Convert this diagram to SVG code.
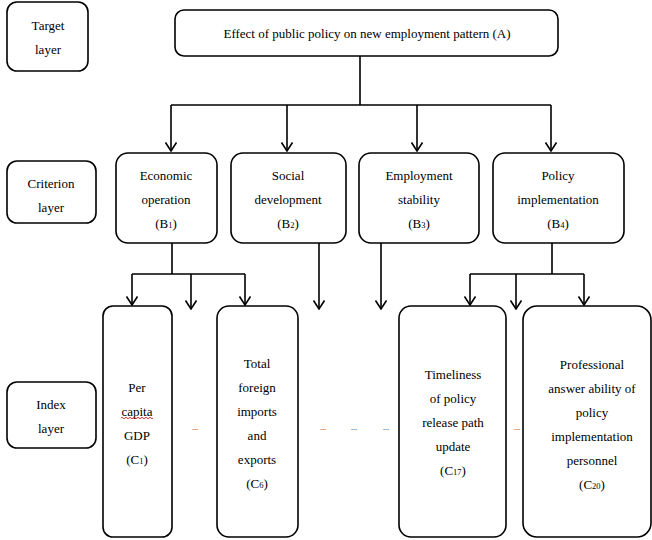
<svg xmlns="http://www.w3.org/2000/svg" width="652" height="540" viewBox="0 0 652 540">
<defs>
<marker id="ah" viewBox="0 0 10 12" refX="9" refY="6" markerWidth="10" markerHeight="12" markerUnits="userSpaceOnUse" orient="auto">
<path d="M0.5,0.5 L9,6 L0.5,11.5" fill="none" stroke="#000" stroke-width="1.6"/>
</marker>
</defs>
<rect width="652" height="540" fill="#fff"/>
<g id="connectors" fill="none" stroke="#000" stroke-width="1.6">
<path d="M360,56 V105 M171,105 H551"/>
<path d="M171,105 V151" marker-end="url(#ah)"/>
<path d="M287,105 V151" marker-end="url(#ah)"/>
<path d="M417,105 V151" marker-end="url(#ah)"/>
<path d="M551,105 V151" marker-end="url(#ah)"/>
<path d="M172,243 V274 M132,274 H245"/>
<path d="M132,274 V305" marker-end="url(#ah)"/>
<path d="M191,274 V309" marker-end="url(#ah)"/>
<path d="M245,274 V305" marker-end="url(#ah)"/>
<path d="M319,243 V309" marker-end="url(#ah)"/>
<path d="M381,243 V309" marker-end="url(#ah)"/>
<path d="M552,243 V274 M470,274 H584"/>
<path d="M470,274 V305" marker-end="url(#ah)"/>
<path d="M516,274 V309" marker-end="url(#ah)"/>
<path d="M584,274 V305" marker-end="url(#ah)"/>
</g>
<g id="target-layer">
<rect fill="#fff" stroke="#000" stroke-width="1.6" x="7" y="2" width="81" height="69" rx="10"/>
<text style="font-family:'Liberation Serif',serif !important" font-size="13" text-anchor="middle" x="48" y="29.5">Target</text>
<text style="font-family:'Liberation Serif',serif !important" font-size="13" text-anchor="middle" x="48" y="53.5">layer</text>
</g>
<g id="A">
<rect fill="#fff" stroke="#000" stroke-width="1.6" x="175" y="10" width="383" height="46" rx="9"/>
<text style="font-family:'Liberation Serif',serif !important" font-size="13" text-anchor="middle" x="367" y="37.5">Effect of public policy on new employment pattern (A)</text>
</g>
<g id="criterion-layer">
<rect fill="#fff" stroke="#000" stroke-width="1.6" x="7" y="161" width="89" height="62" rx="10"/>
<text style="font-family:'Liberation Serif',serif !important" font-size="13" text-anchor="middle" x="51" y="187.5">Criterion</text>
<text style="font-family:'Liberation Serif',serif !important" font-size="13" text-anchor="middle" x="51" y="211.5">layer</text>
</g>
<g id="B1">
<rect fill="#fff" stroke="#000" stroke-width="1.6" x="116" y="153" width="101" height="90" rx="12"/>
<text style="font-family:'Liberation Serif',serif !important" font-size="13" text-anchor="middle" x="166" y="179.5">Economic</text>
<text style="font-family:'Liberation Serif',serif !important" font-size="13" text-anchor="middle" x="166" y="203.5">operation</text>
<text style="font-family:'Liberation Serif',serif !important" font-size="13" text-anchor="middle" x="166" y="227.5">(B<tspan font-size="8.5">1</tspan>)</text>
</g>
<g id="B2">
<rect fill="#fff" stroke="#000" stroke-width="1.6" x="231" y="153" width="115" height="90" rx="12"/>
<text style="font-family:'Liberation Serif',serif !important" font-size="13" text-anchor="middle" x="288" y="179.5">Social</text>
<text style="font-family:'Liberation Serif',serif !important" font-size="13" text-anchor="middle" x="288" y="203.5">development</text>
<text style="font-family:'Liberation Serif',serif !important" font-size="13" text-anchor="middle" x="288" y="227.5">(B<tspan font-size="8.5">2</tspan>)</text>
</g>
<g id="B3">
<rect fill="#fff" stroke="#000" stroke-width="1.6" x="359" y="153" width="120" height="90" rx="12"/>
<text style="font-family:'Liberation Serif',serif !important" font-size="13" text-anchor="middle" x="419" y="179.5">Employment</text>
<text style="font-family:'Liberation Serif',serif !important" font-size="13" text-anchor="middle" x="419" y="203.5">stability</text>
<text style="font-family:'Liberation Serif',serif !important" font-size="13" text-anchor="middle" x="419" y="227.5">(B<tspan font-size="8.5">3</tspan>)</text>
</g>
<g id="B4">
<rect fill="#fff" stroke="#000" stroke-width="1.6" x="493" y="153" width="131" height="90" rx="12"/>
<text style="font-family:'Liberation Serif',serif !important" font-size="13" text-anchor="middle" x="558" y="179.5">Policy</text>
<text style="font-family:'Liberation Serif',serif !important" font-size="13" text-anchor="middle" x="558" y="203.5">implementation</text>
<text style="font-family:'Liberation Serif',serif !important" font-size="13" text-anchor="middle" x="558" y="227.5">(B<tspan font-size="8.5">4</tspan>)</text>
</g>
<g id="index-layer">
<rect fill="#fff" stroke="#000" stroke-width="1.6" x="7" y="382" width="89" height="66" rx="10"/>
<text style="font-family:'Liberation Serif',serif !important" font-size="13" text-anchor="middle" x="51" y="408.5">Index</text>
<text style="font-family:'Liberation Serif',serif !important" font-size="13" text-anchor="middle" x="51" y="432.5">layer</text>
</g>
<g id="C1">
<rect fill="#fff" stroke="#000" stroke-width="1.6" x="103" y="306" width="69" height="231" rx="10"/>
<text style="font-family:'Liberation Serif',serif !important" font-size="13" text-anchor="middle" x="137" y="391.5">Per</text>
<text style="font-family:'Liberation Serif',serif !important" font-size="13" text-anchor="middle" x="137" y="415.5">capita</text>
<text style="font-family:'Liberation Serif',serif !important" font-size="13" text-anchor="middle" x="137" y="439.5">GDP</text>
<text style="font-family:'Liberation Serif',serif !important" font-size="13" text-anchor="middle" x="137" y="463.5">(C<tspan font-size="8.5">1</tspan>)</text>
<path d="M121,418 q1,-1.5 2,0 t2,0 t2,0 t2,0 t2,0 t2,0 t2,0 t2,0 t2,0 t2,0 t2,0 t2,0 t2,0 t2,0 t2,0 t2,0" fill="none" stroke="#d00" stroke-width="0.8"/>
</g>
<g id="C6">
<rect fill="#fff" stroke="#000" stroke-width="1.6" x="217" y="306" width="81" height="231" rx="12"/>
<text style="font-family:'Liberation Serif',serif !important" font-size="13" text-anchor="middle" x="257" y="367.5">Total</text>
<text style="font-family:'Liberation Serif',serif !important" font-size="13" text-anchor="middle" x="257" y="391.5">foreign</text>
<text style="font-family:'Liberation Serif',serif !important" font-size="13" text-anchor="middle" x="257" y="415.5">imports</text>
<text style="font-family:'Liberation Serif',serif !important" font-size="13" text-anchor="middle" x="257" y="439.5">and</text>
<text style="font-family:'Liberation Serif',serif !important" font-size="13" text-anchor="middle" x="257" y="463.5">exports</text>
<text style="font-family:'Liberation Serif',serif !important" font-size="13" text-anchor="middle" x="257" y="487.5">(C<tspan font-size="8.5">6</tspan>)</text>
</g>
<g id="C17">
<rect fill="#fff" stroke="#000" stroke-width="1.6" x="399" y="306" width="107" height="231" rx="12"/>
<text style="font-family:'Liberation Serif',serif !important" font-size="13" text-anchor="middle" x="453" y="378.5">Timeliness</text>
<text style="font-family:'Liberation Serif',serif !important" font-size="13" text-anchor="middle" x="453" y="402.5">of policy</text>
<text style="font-family:'Liberation Serif',serif !important" font-size="13" text-anchor="middle" x="453" y="426.5">release path</text>
<text style="font-family:'Liberation Serif',serif !important" font-size="13" text-anchor="middle" x="453" y="450.5">update</text>
<text style="font-family:'Liberation Serif',serif !important" font-size="13" text-anchor="middle" x="453" y="474.5">(C<tspan font-size="8.5">17</tspan>)</text>
</g>
<g id="C20">
<rect fill="#fff" stroke="#000" stroke-width="1.6" x="523" y="306" width="128" height="231" rx="14"/>
<text style="font-family:'Liberation Serif',serif !important" font-size="13" text-anchor="middle" x="592" y="368.5">Professional</text>
<text style="font-family:'Liberation Serif',serif !important" font-size="13" text-anchor="middle" x="592" y="392.5">answer ability of</text>
<text style="font-family:'Liberation Serif',serif !important" font-size="13" text-anchor="middle" x="592" y="416.5">policy</text>
<text style="font-family:'Liberation Serif',serif !important" font-size="13" text-anchor="middle" x="592" y="440.5">implementation</text>
<text style="font-family:'Liberation Serif',serif !important" font-size="13" text-anchor="middle" x="592" y="464.5">personnel</text>
<text style="font-family:'Liberation Serif',serif !important" font-size="13" text-anchor="middle" x="592" y="488.5">(C<tspan font-size="8.5">20</tspan>)</text>
</g>
<g id="ellipses">
<text style="font-family:'Liberation Serif',serif !important" font-size="8" text-anchor="middle" x="195" y="430">...</text>
<text style="font-family:'Liberation Serif',serif !important" font-size="8" text-anchor="middle" x="323" y="430">...</text>
<text style="font-family:'Liberation Serif',serif !important" font-size="8" text-anchor="middle" x="354" y="430">...</text>
<text style="font-family:'Liberation Serif',serif !important" font-size="8" text-anchor="middle" x="386" y="430">...</text>
<text style="font-family:'Liberation Serif',serif !important" font-size="8" text-anchor="middle" x="517" y="430">...</text>
</g>
</svg>
